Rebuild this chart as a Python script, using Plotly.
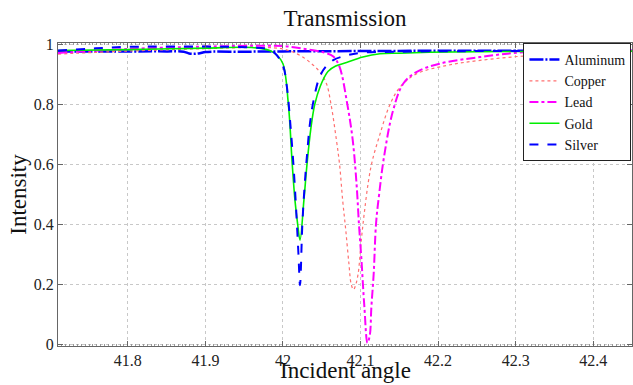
import plotly.graph_objects as go

# ---- data ----
al_x = [41.71, 41.80, 41.85, 41.872, 41.879, 41.886, 41.893, 41.90, 41.95, 42.00, 42.10, 42.20, 42.30, 42.45]
al_y = [0.977, 0.977, 0.977, 0.976, 0.970, 0.969, 0.971, 0.975, 0.976, 0.977, 0.978, 0.979, 0.979, 0.980]

cu_x = [41.71, 41.80, 41.90, 41.97, 42.00, 42.021, 42.035, 42.047, 42.056, 42.062, 42.069, 42.073,
        42.077, 42.081, 42.085, 42.088, 42.091, 42.094, 42.097, 42.101, 42.105, 42.110, 42.115,
        42.125, 42.138, 42.151, 42.172, 42.211, 42.254, 42.318, 42.38, 42.45]
cu_y = [0.968, 0.978, 0.986, 0.990, 0.985, 0.965, 0.940, 0.910, 0.870, 0.800, 0.680, 0.600,
        0.480, 0.380, 0.270, 0.200, 0.182, 0.200, 0.236, 0.347, 0.440, 0.540, 0.610,
        0.700, 0.800, 0.858, 0.902, 0.930, 0.947, 0.963, 0.970, 0.975]

pb_x = [41.71, 41.80, 41.90, 41.98, 42.00, 42.026, 42.052, 42.065, 42.073, 42.083, 42.090, 42.095,
        42.098, 42.101, 42.105, 42.109, 42.112, 42.114, 42.117, 42.120, 42.124, 42.130, 42.142,
        42.155, 42.172, 42.202, 42.254, 42.31, 42.38, 42.45]
pb_y = [0.972, 0.985, 0.993, 0.996, 0.995, 0.986, 0.974, 0.960, 0.925, 0.800, 0.680, 0.530,
        0.400, 0.290, 0.124, 0.004, 0.030, 0.124, 0.236, 0.402, 0.500, 0.620, 0.780,
        0.869, 0.908, 0.936, 0.958, 0.974, 0.978, 0.980]

au_x = [41.71, 41.80, 41.90, 41.96, 41.983, 41.992, 42.000, 42.007, 42.012, 42.0155, 42.019, 42.022,
        42.027, 42.031, 42.036, 42.041, 42.048, 42.058, 42.068, 42.082, 42.103, 42.125, 42.15,
        42.189, 42.25, 42.35, 42.45]
au_y = [0.980, 0.983, 0.988, 0.990, 0.980, 0.965, 0.936, 0.800, 0.600, 0.480, 0.400, 0.347,
        0.480, 0.600, 0.720, 0.800, 0.860, 0.910, 0.928, 0.940, 0.958, 0.969, 0.971,
        0.974, 0.976, 0.977, 0.978]

ag_x = [41.71, 41.75, 41.80, 41.90, 41.96, 41.98, 41.99, 42.000, 42.005, 42.010, 42.014, 42.017,
        42.020, 42.022, 42.025, 42.028, 42.031, 42.035, 42.040, 42.047, 42.055, 42.065, 42.080,
        42.100, 42.15, 42.25, 42.45]
ag_y = [0.980, 0.986, 0.992, 0.993, 0.990, 0.985, 0.970, 0.930, 0.860, 0.720, 0.580, 0.450,
        0.300, 0.197, 0.400, 0.530, 0.630, 0.740, 0.820, 0.890, 0.925, 0.948, 0.962,
        0.972, 0.976, 0.978, 0.980]

names = ["Aluminum", "Copper", "Lead", "Gold", "Silver"]
x_ticks = [41.8, 41.9, 42.0, 42.1, 42.2, 42.3, 42.4]
y_ticks = [0, 0.2, 0.4, 0.6, 0.8, 1]

SERIF = "Liberation Serif, Times New Roman, DejaVu Serif, serif"

fig = go.Figure()
fig.add_trace(go.Scatter(x=al_x, y=al_y, name=names[0], mode="lines", line_shape="spline",
                         line=dict(color="#0000ff", width=2.5, dash="14px,2px,2px,2px")))
fig.add_trace(go.Scatter(x=cu_x, y=cu_y, name=names[1], mode="lines", line_shape="spline",
                         line=dict(color="#ff7070", width=1.2, dash="dot")))
fig.add_trace(go.Scatter(x=pb_x, y=pb_y, name=names[2], mode="lines", line_shape="spline",
                         line=dict(color="#ff00ff", width=2, dash="dashdot")))
fig.add_trace(go.Scatter(x=au_x, y=au_y, name=names[3], mode="lines", line_shape="spline",
                         line=dict(color="#00ee00", width=1.6)))
fig.add_trace(go.Scatter(x=ag_x, y=ag_y, name=names[4], mode="lines", line_shape="spline",
                         line=dict(color="#0000ff", width=2, dash="dash")))

axis_common = dict(
    showline=True, linecolor="#666", linewidth=1, mirror="ticks",
    ticks="inside", ticklen=5, tickcolor="#666",
    showgrid=True, gridcolor="#c8c8c8", griddash="dot", gridwidth=1,
    zeroline=False, automargin=False,
    tickfont=dict(family=SERIF, size=16, color="#222"),
)

fig.update_xaxes(range=[41.71, 42.45], tickvals=x_ticks, ticktext=[f"{v:g}" for v in x_ticks],
                 minor=dict(ticks="inside", ticklen=2, dtick=0.005, tickcolor="#999", showgrid=False),
                 **axis_common)
fig.update_yaxes(range=[-0.006, 1.005], tickvals=y_ticks, ticktext=[f"{v:g}" for v in y_ticks],
                 title=dict(text="Intensity", font=dict(family=SERIF, size=23, color="#111"), standoff=0),
                 **axis_common)

# x-axis title placed at the very bottom of the figure, as in the reference
fig.add_annotation(text="Incident angle", xref="paper", yref="paper", x=0.5, y=-39 / 303,
                   xanchor="center", yanchor="bottom", yshift=0, showarrow=False,
                   font=dict(family=SERIF, size=23, color="#111"))

fig.update_layout(
    width=633, height=385,
    margin=dict(l=58, r=1, t=43, b=39),
    paper_bgcolor="white", plot_bgcolor="white",
    title=dict(text="Transmission", x=0.545, xanchor="center", y=0.953, yanchor="middle",
               font=dict(family=SERIF, size=23, color="#111")),
    legend=dict(x=0.999, y=1.0, xanchor="right", yanchor="top",
                bgcolor="white", bordercolor="#222", borderwidth=1,
                font=dict(family=SERIF, size=14, color="#111"),
                itemwidth=30, tracegroupgap=0),
    showlegend=True,
)

fig.write_html("out.html", config={"displayModeBar": False},
               post_script="document.body.style.margin='0';document.body.style.padding='0';")
